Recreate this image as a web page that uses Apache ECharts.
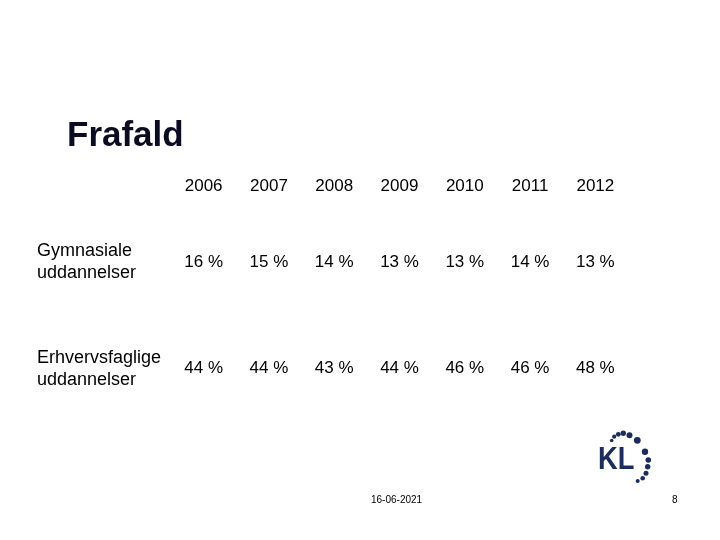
<!DOCTYPE html>
<html><head><meta charset="utf-8">
<script src="https://cdn.jsdelivr.net/npm/echarts@6/dist/echarts.min.js"></script>
<style>html,body{margin:0;padding:0;background:#fff}#c{width:720px;height:540px}</style>
</head><body><div id="c"></div>
<script>
const years = ['2006','2007','2008','2009','2010','2011','2012'];
const rowLabels = ['Gymnasiale\nuddannelser', 'Erhvervsfaglige\nuddannelser'];
const gymnasiale = [16, 15, 14, 13, 13, 14, 13];
const erhvervsfaglige = [44, 44, 43, 44, 46, 46, 48];
const title = 'Frafald';
const dateText = '16-06-2021';
const pageNo = '8';

const font = '"Liberation Sans", Arial, sans-serif';
const rows = [gymnasiale, erhvervsfaglige];
const cellData = [];
rows.forEach((r, ri) => r.forEach((v, ci) => cellData.push([years[ci], rowLabels[ri], v])));

const navy = '#1c2c5c';
const dots = [[611.7,440.5,1.8],[614.2,436.7,2.1],[618.3,434.3,2.4],[623.3,433.3,2.7],[629.5,435.2,3],[637.3,440.3,3.4],[645,451.7,3.2],[648.3,460,2.8],[647.7,466.7,2.7],[646,473.3,2.5],[642.7,478.3,2.3],[637.7,481,2]];

const chart = echarts.init(document.getElementById('c'));
chart.setOption({
  animation: false,
  backgroundColor: '#ffffff',
  title: {
    text: title, left: 62, top: 114,
    textStyle: { fontFamily: font, fontSize: 35, fontWeight: 'bold', color: '#0b0b22' }
  },
  grid: { left: 171, right: 92, top: 209, bottom: 118 },
  xAxis: {
    type: 'category', data: years, position: 'top',
    axisLine: { show: false }, axisTick: { show: false }, splitLine: { show: false },
    axisLabel: { margin: 14, fontFamily: font, fontSize: 17, color: '#000' }
  },
  yAxis: {
    type: 'category', data: rowLabels, inverse: true,
    axisLine: { show: false }, axisTick: { show: false }, splitLine: { show: false },
    axisLabel: { margin: 134, align: 'left', fontFamily: font, fontSize: 18, lineHeight: 22, color: '#000' }
  },
  series: [{
    type: 'scatter', data: cellData, symbolSize: 0,
    itemStyle: { opacity: 1 },
    label: {
      show: true, position: 'inside', opacity: 1,
      formatter: p => p.value[2] + ' %',
      fontFamily: font, fontSize: 17, color: '#000'
    }
  }],
  graphic: [
    { type: 'text', x: 598, y: 445, scaleX: 0.88, style: { text: 'KL', fontFamily: font, fontSize: 31, fontWeight: 'bold', fill: navy } },
    ...dots.map(d => ({ type: 'circle', shape: { cx: d[0], cy: d[1], r: d[2] }, style: { fill: navy } })),
    { type: 'text', left: 371, top: 495, style: { text: dateText, fontFamily: font, fontSize: 10, fill: '#000' } },
    { type: 'text', left: 672, top: 495, style: { text: pageNo, fontFamily: font, fontSize: 10, fill: '#000' } }
  ]
});
</script></body></html>
